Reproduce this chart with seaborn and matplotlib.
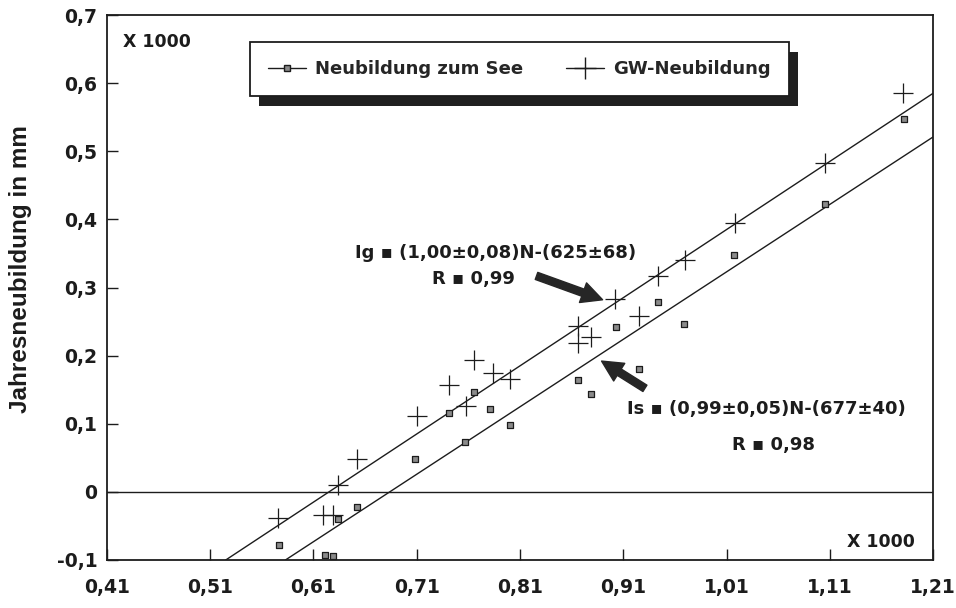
import numpy as np
import pandas as pd
import matplotlib
matplotlib.use("Agg")
import matplotlib.pyplot as plt
import matplotlib.patches as mpatches
from matplotlib.lines import Line2D
from matplotlib.transforms import IdentityTransform
import seaborn as sns

# ---------------- data (units: x 1000 mm) ----------------
gw_x = [0.576, 0.619, 0.629, 0.634, 0.652, 0.710, 0.741, 0.758, 0.765, 0.784, 0.800,
        0.866, 0.866, 0.879, 0.902, 0.925, 0.944, 0.970, 1.018, 1.105, 1.181]
gw_y = [-0.039, -0.034, -0.034, 0.010, 0.048, 0.111, 0.157, 0.126, 0.193, 0.175, 0.166,
        0.243, 0.219, 0.228, 0.283, 0.258, 0.317, 0.341, 0.395, 0.483, 0.586]

see_x = [0.577, 0.621, 0.629, 0.634, 0.652, 0.708, 0.741, 0.757, 0.765, 0.781, 0.800,
         0.866, 0.879, 0.903, 0.925, 0.944, 0.969, 1.017, 1.105, 1.182]
see_y = [-0.078, -0.092, -0.094, -0.040, -0.0225, 0.048, 0.116, 0.0725, 0.146, 0.121, 0.0985,
         0.164, 0.143, 0.242, 0.180, 0.278, 0.246, 0.347, 0.422, 0.547]

# regression lines  y = slope * x - offset   (offset in x1000 mm)
reg_names = ["Ig", "Is"]
reg_slope = [1.00, 0.99]
reg_offset = [0.625, 0.677]

legend_labels = ["Neubildung zum See", "GW-Neubildung"]
xticks = [0.41, 0.51, 0.61, 0.71, 0.81, 0.91, 1.01, 1.11, 1.21]
xtick_labels = ["0,41", "0,51", "0,61", "0,71", "0,81", "0,91", "1,01", "1,11", "1,21"]
yticks = [-0.1, 0.0, 0.1, 0.2, 0.3, 0.4, 0.5, 0.6, 0.7]
ytick_labels = ["-0,1", "0", "0,1", "0,2", "0,3", "0,4", "0,5", "0,6", "0,7"]

eq_ig = "Ig ▪ (1,00±0,08)N-(625±68)"
r_ig = "R ▪ 0,99"
eq_is = "Is ▪ (0,99±0,05)N-(677±40)"
r_is = "R ▪ 0,98"
ylabel = "Jahresneubildung in mm"
scale_text = "X 1000"

# ---------------- style ----------------
sns.set_style("ticks")
plt.rcParams["font.family"] = ["DejaVu Sans"]
plt.rcParams["font.weight"] = "bold"

ink = "#1c1c1c"
xmin, xmax = 0.41, 1.21
ymin, ymax = -0.1, 0.7

fig = plt.figure(figsize=(9.56, 6.08), dpi=100)
ax = fig.add_axes([107 / 956, 1 - 560 / 608, (933 - 107) / 956, (560 - 15) / 608])

# zero line
ax.axhline(0, color=ink, lw=1.0, zorder=1)

# regression lines
for s, o in zip(reg_slope, reg_offset):
    x0 = (o + ymin) / s
    xs = np.array([x0, xmax])
    df_line = pd.DataFrame({"x": xs, "y": s * xs - o})
    sns.lineplot(data=df_line, x="x", y="y", ax=ax, color=ink, lw=1.0, zorder=2)

# points
df_gw = pd.DataFrame({"x": gw_x, "y": gw_y})
df_see = pd.DataFrame({"x": see_x, "y": see_y})
sns.scatterplot(data=df_see, x="x", y="y", ax=ax, marker="s", s=14,
                facecolor="#8a8a8a", edgecolor=ink, linewidth=0.9, zorder=3)
sns.scatterplot(data=df_gw, x="x", y="y", ax=ax, marker="+", s=200,
                color=ink, linewidth=0.9, zorder=3)

ax.set_xlim(xmin, xmax)
ax.set_ylim(ymin, ymax)
ax.set_xticks(xticks)
ax.set_xticklabels(xtick_labels)
ax.set_yticks(yticks)
ax.set_yticklabels(ytick_labels)
ax.tick_params(axis="both", direction="in", length=8, width=1.0, color=ink,
               labelsize=13.5, labelcolor=ink)
ax.tick_params(axis="x", pad=13)
ax.tick_params(axis="y", pad=7)
for sp in ax.spines.values():
    sp.set_visible(True)
    sp.set_linewidth(1.3)
    sp.set_color(ink)

ax.set_xlabel("")
ax.set_ylabel(ylabel, fontsize=17.5, fontweight="bold", family="Liberation Sans", color=ink)
ax.yaxis.set_label_coords(-0.091, 0.534)

# scale labels
ax.text(0.061, 0.950, scale_text, transform=ax.transAxes, ha="center", va="center",
        fontsize=12.5, fontweight="bold", color=ink)
ax.text(0.937, 0.033, scale_text, transform=ax.transAxes, ha="center", va="center",
        fontsize=12.5, fontweight="bold", color=ink)

# equations
ax.text(0.786, 0.351, eq_ig, ha="center", va="center", fontsize=13, fontweight="bold", color=ink)
ax.text(0.765, 0.313, r_ig, ha="center", va="center", fontsize=13, fontweight="bold", color=ink)
ax.text(1.049, 0.121, eq_is, ha="center", va="center", fontsize=13, fontweight="bold", color=ink)
ax.text(1.056, 0.069, r_is, ha="center", va="center", fontsize=13, fontweight="bold", color=ink)

arrow_style = "simple,head_length=1.0,head_width=1.0,tail_width=0.36"
ax.annotate("", xy=(0.890, 0.282), xytext=(0.826, 0.317),
            arrowprops=dict(arrowstyle=arrow_style, color="#262626", mutation_scale=15,
                            shrinkA=0, shrinkB=0), zorder=4)
ax.annotate("", xy=(0.889, 0.192), xytext=(0.931, 0.152),
            arrowprops=dict(arrowstyle=arrow_style, color="#262626", mutation_scale=15,
                            shrinkA=0, shrinkB=0), zorder=4)

# legend
handles = [
    Line2D([], [], color=ink, lw=1.0, marker="s", markersize=5,
           markerfacecolor="#8a8a8a", markeredgecolor=ink),
    Line2D([], [], color=ink, lw=1.0, marker="+", markersize=16, markeredgewidth=1.0),
]
leg = ax.legend(handles, legend_labels, loc="upper left", bbox_to_anchor=(0.173, 0.950),
                ncol=2, frameon=True, fancybox=False, framealpha=1, edgecolor=ink,
                prop={"size": 13, "weight": "bold"}, borderpad=1.0, handlelength=2.1,
                handletextpad=0.5, columnspacing=2.4, borderaxespad=0)
leg.get_frame().set_linewidth(1.3)
leg.set_zorder(6)

fig.canvas.draw()
bb = leg.get_frame().get_window_extent(fig.canvas.get_renderer())
shadow = mpatches.Rectangle((bb.x0 + 9, bb.y0 - 10), bb.width, bb.height,
                            transform=IdentityTransform(), facecolor="#202020",
                            edgecolor="none", zorder=5.5, clip_on=False)
ax.add_artist(shadow)

fig.savefig("out.png", dpi=100)
